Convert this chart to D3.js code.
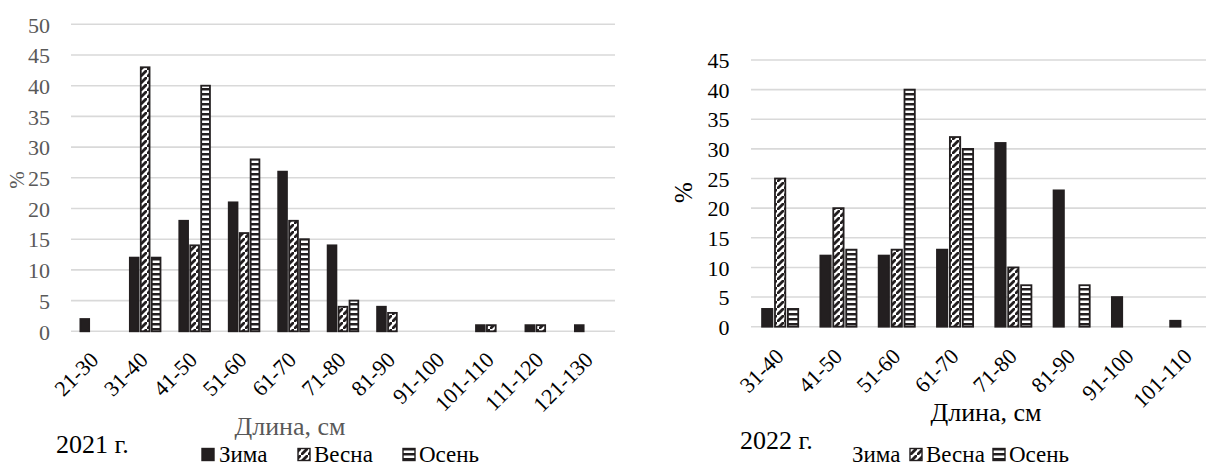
<!DOCTYPE html>
<html><head><meta charset="utf-8">
<script src="https://cdn.jsdelivr.net/npm/d3@7"></script>
<style>body{margin:0;background:#fff}svg{display:block}</style>
</head><body>
<svg id="c" width="1206" height="468"></svg>
<script>
const series = ["Зима", "Весна", "Осень"];
const cats2021 = ["21-30","31-40","41-50","51-60","61-70","71-80","81-90","91-100","101-110","111-120","121-130"];
const zima2021 = [2, 12, 18, 21, 26, 14, 4, 0, 1, 1, 1];
const vesna2021 = [0, 43, 14, 16, 18, 4, 3, 0, 1, 1, 0];
const osen2021 = [0, 12, 40, 28, 15, 5, 0, 0, 0, 0, 0];
const ticks2021 = [0,5,10,15,20,25,30,35,40,45,50];

const cats2022 = ["31-40","41-50","51-60","61-70","71-80","81-90","91-100","101-110"];
const zima2022 = [3, 12, 12, 13, 31, 23, 5, 1];
const vesna2022 = [25, 20, 13, 32, 10, 0, 0, 0];
const osen2022 = [3, 13, 40, 30, 7, 7, 0, 0];
const ticks2022 = [0,5,10,15,20,25,30,35,40,45];

const FONT = '"Liberation Serif"';
const svg = d3.select("#c");
const dark = "#231f20";
const defs = svg.append("defs");
const pd = defs.append("pattern").attr("id","diag").attr("patternUnits","userSpaceOnUse")
  .attr("width",7).attr("height",7);
pd.append("rect").attr("width",7).attr("height",7).attr("fill","#fff");
pd.append("path").attr("d","M-1,8 L8,-1").attr("stroke",dark).attr("stroke-width",2.8);
const ph = defs.append("pattern").attr("id","horiz").attr("patternUnits","userSpaceOnUse")
  .attr("width",4).attr("height",5);
ph.append("rect").attr("width",4).attr("height",5).attr("fill",dark);
ph.append("rect").attr("y",0.5).attr("width",4).attr("height",2.5).attr("fill","#fff");
const fills = {"Зима": dark, "Весна": "url(#diag)", "Осень": "url(#horiz)"};

function txt(sel){ return sel.style("font-family", FONT); }

function chart(o){
  const y = d3.scaleLinear().domain([0, o.ymax]).range([o.y0, o.y1]);
  const x = d3.scaleBand().domain(o.cats).range([o.x0, o.x0 + o.step*o.cats.length]);
  const bw = x.bandwidth();
  const xs = d3.scaleBand().domain(series).range([bw*0.19, bw*0.81]).paddingInner(0.2);
  const g = svg.append("g");
  g.selectAll("line.grid").data(o.ticks).join("line")
    .attr("x1", o.x0).attr("x2", o.gx1).attr("y1", d=>y(d)).attr("y2", d=>y(d))
    .attr("stroke","#d9d9d9").attr("stroke-width",1.6);
  const ya = d3.axisLeft(y).tickValues(o.ticks).tickSize(0).tickPadding(0);
  const yg = g.append("g").attr("transform",`translate(${o.ylabX},0)`).call(ya);
  yg.select(".domain").remove();
  txt(yg.selectAll("text")).style("font-size",o.yfs+"px").attr("fill",o.ycol).attr("dy","0.35em");
  const xa = d3.axisBottom(x).tickSize(0).tickPadding(0);
  const xg = g.append("g").attr("transform",`translate(0,${o.y0})`).call(xa);
  xg.select(".domain").remove();
  txt(xg.selectAll("text")).style("font-size",o.xfs+"px").attr("fill","#000")
    .attr("text-anchor","end").attr("dy",0).attr("y",0)
    .attr("transform",`translate(${o.xlabDx},${o.xlabDy}) rotate(-45)`);
  const data = [];
  o.cats.forEach((c,i)=>series.forEach((s,j)=>data.push({c, s, v:o.vals[j][i]})));
  g.selectAll("rect.bar").data(data.filter(d=>d.v>0)).join("rect")
    .attr("x", d=>x(d.c)+xs(d.s)).attr("width", xs.bandwidth())
    .attr("y", d=>y(d.v)).attr("height", d=>y(0)-y(d.v))
    .attr("fill", d=>fills[d.s]).attr("stroke", dark).attr("stroke-width",1.8);
  txt(g.append("text")).attr("x",o.xt[0]).attr("y",o.xt[1]).attr("text-anchor","middle")
    .style("font-size",o.xtfs+"px").attr("fill",o.tcol).text("Длина, см");
  txt(g.append("text")).attr("transform",`translate(${o.yt[0]},${o.yt[1]}) rotate(-90)`).attr("text-anchor","middle")
    .style("font-size",o.ytfs+"px").attr("fill",o.tcol).text("%");
  txt(g.append("text")).attr("x",o.yr[0]).attr("y",o.yr[1]).style("font-size","26px").attr("fill","#000").text(o.year);
  o.leg.forEach((L,i)=>{
    if(L.m!==null){
      g.append("rect").attr("x",L.m).attr("y",o.legY-13.5).attr("width",12).attr("height",12)
        .attr("fill",fills[series[i]]).attr("stroke",dark).attr("stroke-width",1.4);
    }
    txt(g.append("text")).attr("x",L.t).attr("y",o.legY).style("font-size",o.lfs+"px").attr("fill","#000").text(series[i]);
  });
}

chart({cats:cats2021, vals:[zima2021,vesna2021,osen2021], ticks:ticks2021, ymax:50,
  y0:331.3, y1:24.3, x0:71, step:49.45, gx1:615, ylabX:50, yfs:22, ycol:"#595959", tcol:"#595959",
  xfs:22, xlabDx:4, xlabDy:30, xt:[290,435], xtfs:26, yt:[24,180], ytfs:21, yr:[56,453], year:"2021 г.",
  lfs:23, legY:462, leg:[{m:202,t:219},{m:298,t:314},{m:403,t:419}]});

chart({cats:cats2022, vals:[zima2022,vesna2022,osen2022], ticks:ticks2022, ymax:45,
  y0:326.7, y1:60, x0:751, step:58.3, gx1:1206, ylabX:729.5, yfs:22, ycol:"#000", tcol:"#000",
  xfs:22, xlabDx:5, xlabDy:31, xt:[986,421], xtfs:26, yt:[692,192.5], ytfs:25, yr:[740,449], year:"2022 г.",
  lfs:23, legY:462, leg:[{m:null,t:852},{m:910,t:926},{m:993,t:1009}]});
</script>
</body></html>
